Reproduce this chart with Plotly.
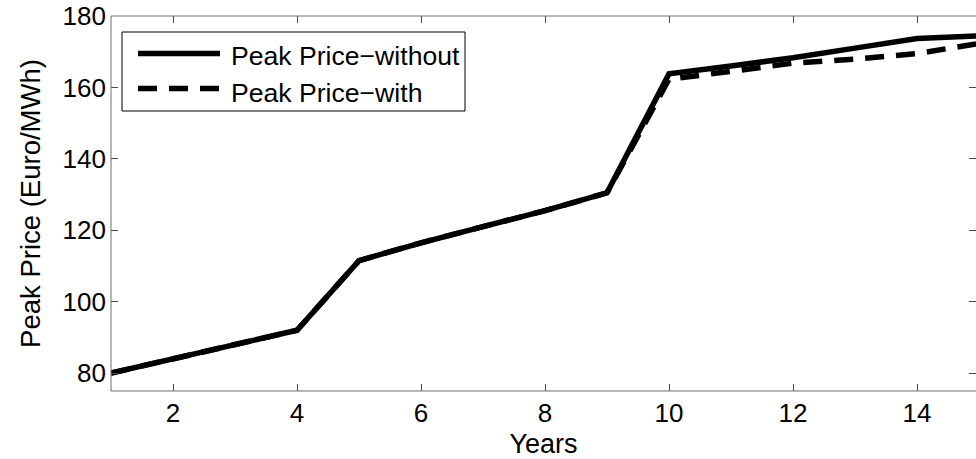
import plotly.graph_objects as go

# Yearly peak price, with and without the measure (Euro/MWh)
years = list(range(1, 16))
price_without = [80, 84, 88, 92, 111.5, 116.5, 121, 125.5, 130.5, 163.8, 166, 168.3, 171, 173.7, 174.4]
price_with = [80, 84, 88, 92, 111.5, 116.5, 121, 125.5, 130.5, 162.3, 164.5, 166.8, 167.9, 169.5, 172.3]
series_names = ["Peak Price\u2212without", "Peak Price\u2212with"]
x_ticks = [2, 4, 6, 8, 10, 12, 14]
y_ticks = [80, 100, 120, 140, 160, 180]

FONT = "Liberation Sans, Arial, Helvetica, sans-serif"
W, H = 976, 459
ML, MT, MB = 111, 16, 68
PW = W - ML          # plot width in px
PH = H - MT - MB     # plot height in px
PX_PER_YEAR = 62.0
x_right = 1 + PW / PX_PER_YEAR

DASH = "19px,12px"
LW = 5.5

fig = go.Figure()
fig.add_trace(go.Scatter(x=years, y=price_without, mode="lines", name=series_names[0],
                         line=dict(color="black", width=LW), showlegend=False))
fig.add_trace(go.Scatter(x=years, y=price_with, mode="lines", name=series_names[1],
                         line=dict(color="black", width=LW, dash=DASH), showlegend=False))


def px_x(px):
    return (px - ML) / PW


def px_y(py):
    return (MT + PH - py) / PH


shapes = [
    # axes box (the right edge sits just past the canvas)
    dict(type="rect", xref="paper", yref="paper", x0=0, x1=px_x(978), y0=0, y1=1,
         line=dict(color="#6e6e6e", width=1), layer="above"),
    # legend box
    dict(type="rect", xref="paper", yref="paper", x0=px_x(122), x1=px_x(465),
         y0=px_y(111), y1=px_y(32), line=dict(color="black", width=1),
         fillcolor="white", layer="above"),
    dict(type="line", xref="paper", yref="paper", x0=px_x(138), x1=px_x(220),
         y0=px_y(53.5), y1=px_y(53.5), line=dict(color="black", width=LW), layer="above"),
    dict(type="line", xref="paper", yref="paper", x0=px_x(138), x1=px_x(220),
         y0=px_y(88.5), y1=px_y(88.5), line=dict(color="black", width=LW, dash=DASH),
         layer="above"),
]

annotations = [
    dict(xref="paper", yref="paper", x=px_x(229), y=px_y(56), text=series_names[0],
         showarrow=False, xanchor="left", yanchor="middle",
         font=dict(family=FONT, size=26.6, color="black")),
    dict(xref="paper", yref="paper", x=px_x(229), y=px_y(93), text=series_names[1],
         showarrow=False, xanchor="left", yanchor="middle",
         font=dict(family=FONT, size=26.6, color="black")),
]

axis_common = dict(
    showline=False, mirror="ticks", ticks="inside", ticklen=7, tickwidth=1,
    tickcolor="#4a4a4a", showgrid=False, zeroline=False,
    tickfont=dict(family=FONT, size=26, color="black"),
)

fig.update_layout(
    width=W, height=H,
    margin=dict(l=ML, r=0, t=MT, b=MB, pad=0),
    paper_bgcolor="white", plot_bgcolor="white",
    font=dict(family=FONT, size=26, color="black"),
    xaxis=dict(range=[1, x_right], tickvals=x_ticks, ticklabelstandoff=4,
               title=dict(text="Years", standoff=7,
                          font=dict(family=FONT, size=27, color="black")),
               **axis_common),
    yaxis=dict(range=[75, 180], tickvals=y_ticks, ticklabelstandoff=4,
               title=dict(text="Peak Price (Euro/MWh)", standoff=13,
                          font=dict(family=FONT, size=27.5, color="black")),
               **axis_common),
    shapes=shapes,
    annotations=annotations,
)

fig.write_html("out.html")
